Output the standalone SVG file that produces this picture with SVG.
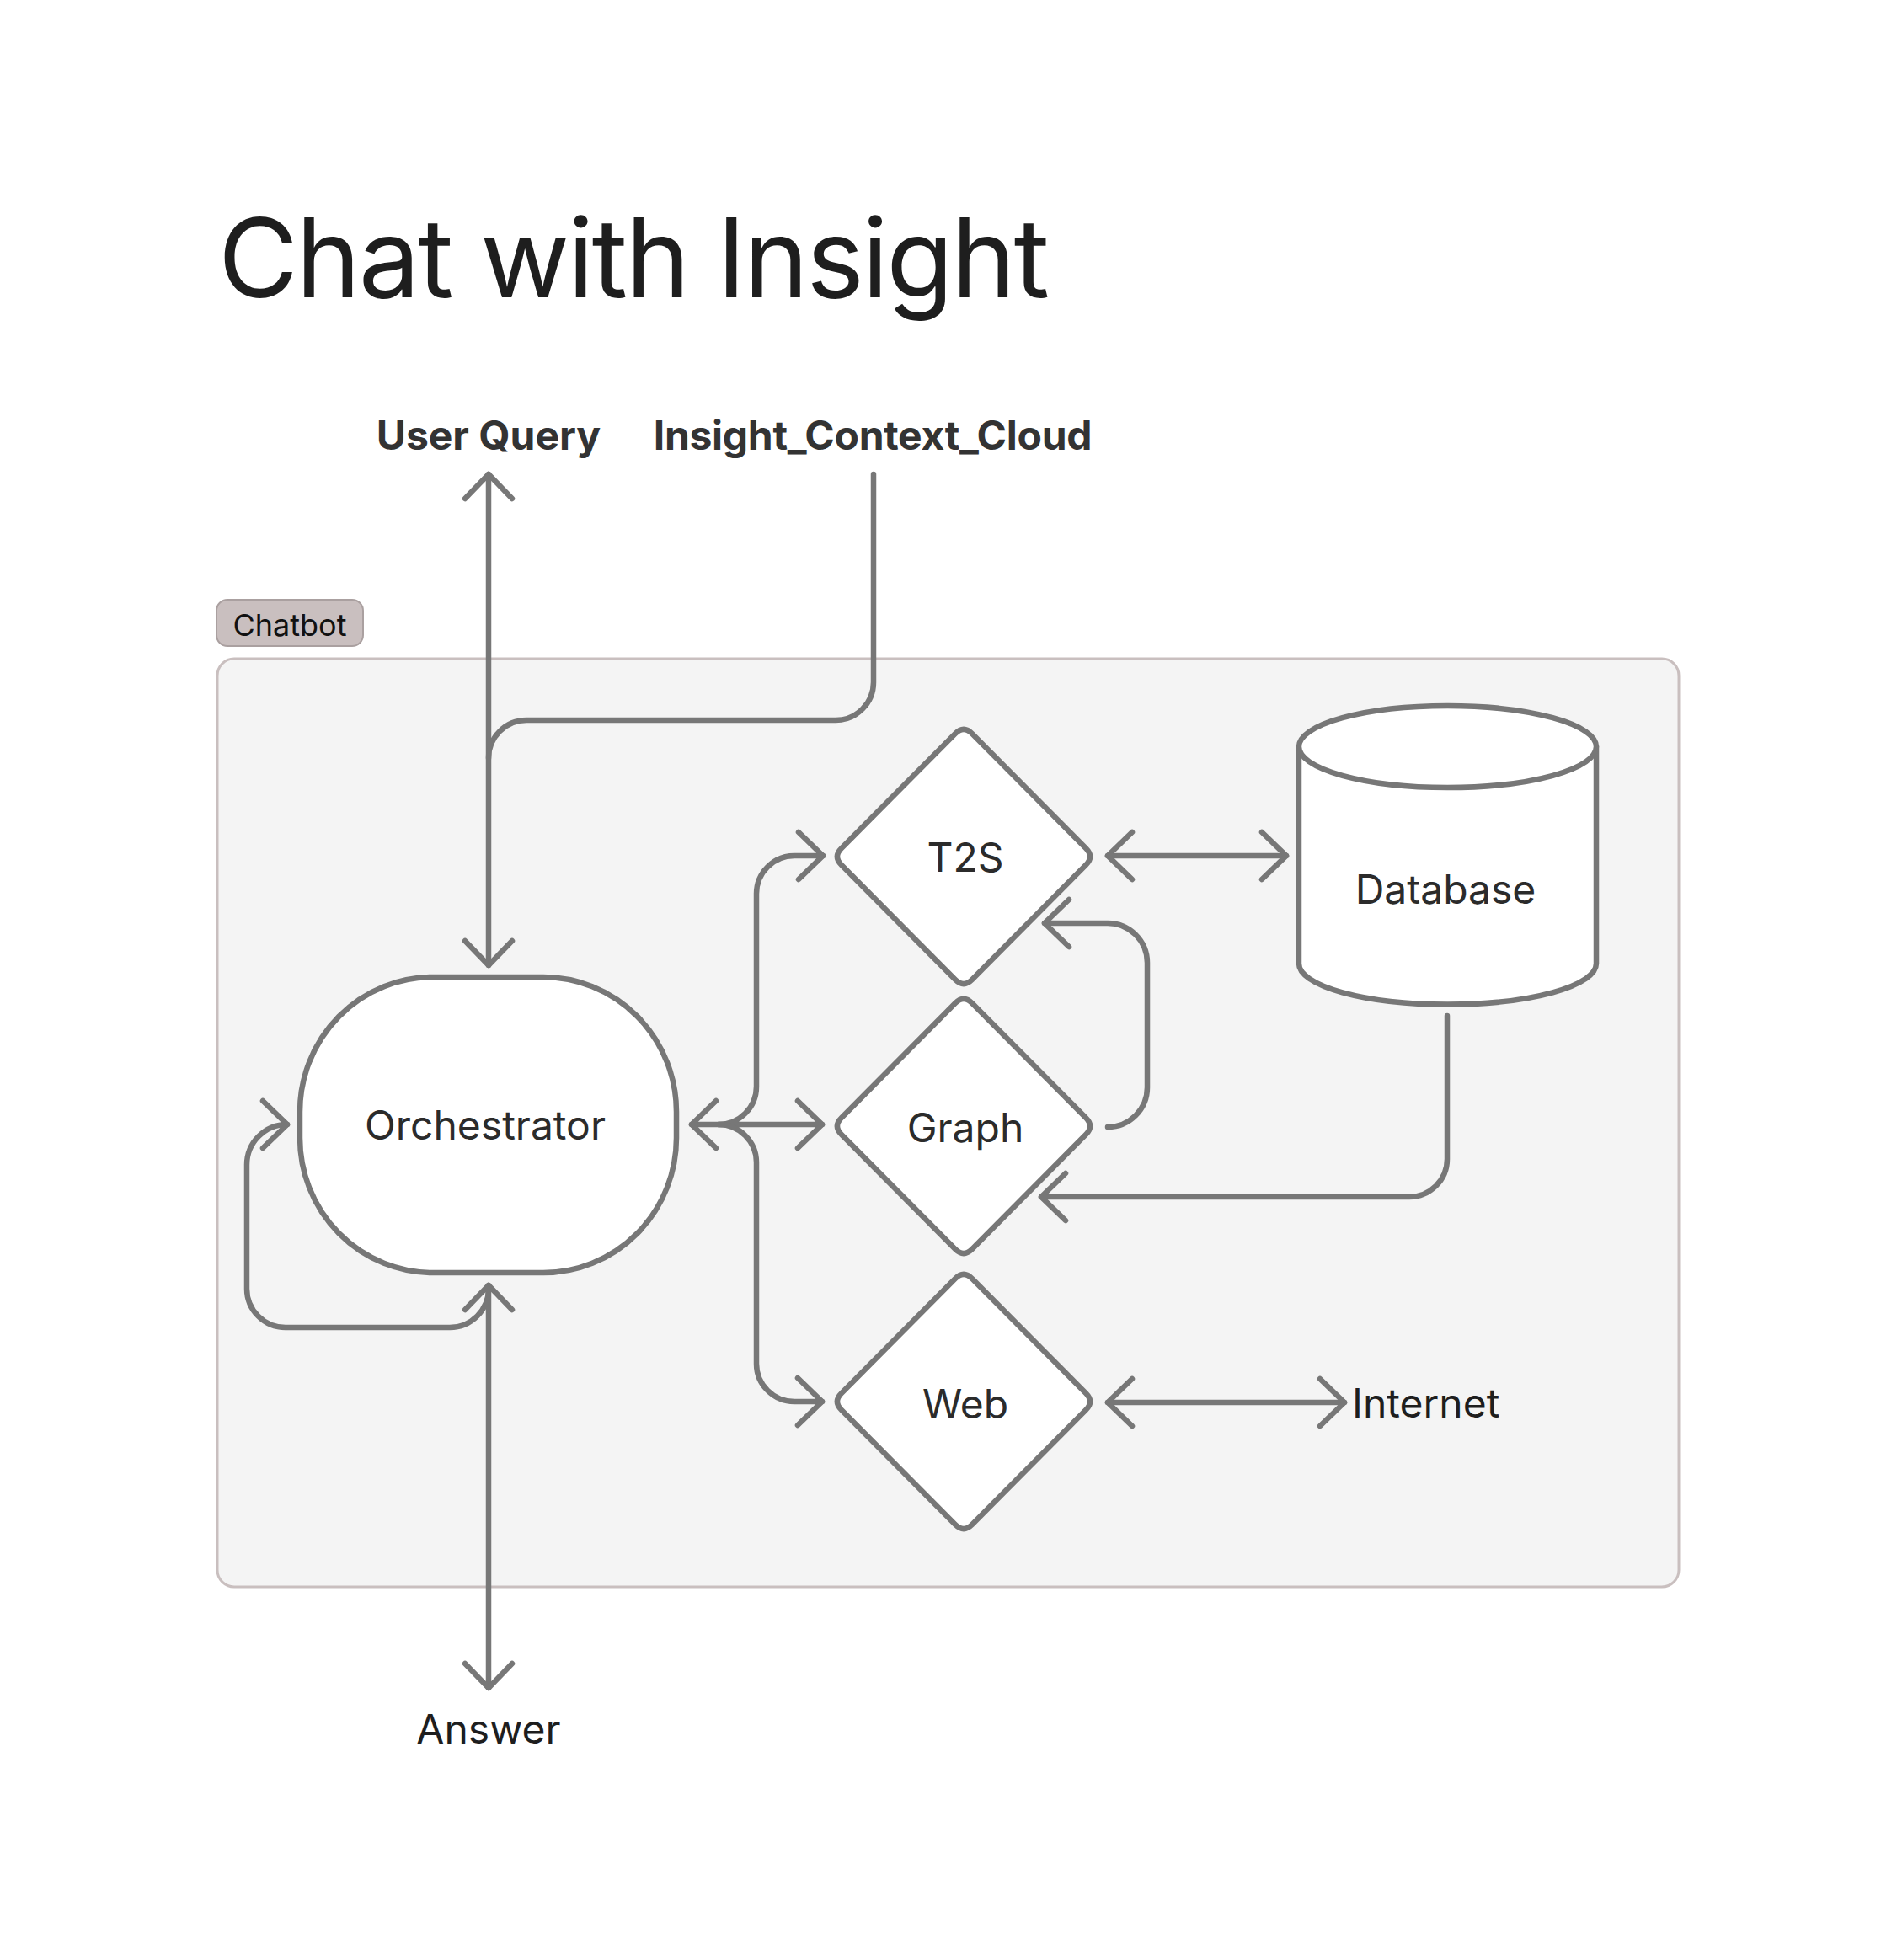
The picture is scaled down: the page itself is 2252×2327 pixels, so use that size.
<svg xmlns="http://www.w3.org/2000/svg" xmlns:xlink="http://www.w3.org/1999/xlink" width="2252" height="2327" viewBox="0 0 2252 2327">
<style>
.conn{fill:none;stroke:#777777;stroke-width:6.5;stroke-linecap:round;stroke-linejoin:round}
.node{fill:#ffffff;stroke:#777777;stroke-width:6.5;stroke-linejoin:round}
.lbl{font-family:Inter,"Noto Sans","Liberation Sans",sans-serif;font-size:48px;fill:#2b2b2b}
.ext{font-family:Inter,"Noto Sans","Liberation Sans",sans-serif;font-size:48px;fill:#1e1e1e}
.bold{font-family:Inter,"Noto Sans","Liberation Sans",sans-serif;font-size:48px;font-weight:700;fill:#333333}
</style>
<defs>
<marker id="ah" viewBox="-36 -36 42 72" refX="0" refY="0" markerWidth="42" markerHeight="72" markerUnits="userSpaceOnUse" orient="auto-start-reverse" overflow="visible">
<path d="M-29,-28 L0,0 L-29,28" fill="none" stroke="#777777" stroke-width="6.5" stroke-linecap="round" stroke-linejoin="round"/>
</marker>
<path id="dia" d="M10,-146 L145,-10 Q155,0 145,10 L10,146 Q0,156 -10,146 L-145,10 Q-155,0 -145,-10 L-10,-146 Q0,-156 10,-146 Z"/>
</defs>
<rect width="2252" height="2327" fill="#ffffff"/>
<text id="title" x="259" y="353" font-family="Inter,'Noto Sans','Liberation Sans',sans-serif" font-size="130" letter-spacing="-2.6" fill="#1e1e1e">Chat with Insight</text>
<g id="chatbot">
<rect x="258" y="782" width="1735" height="1102" rx="20" fill="#f4f4f4" stroke="#c9bfbf" stroke-width="3"/>
<rect x="257" y="712" width="174" height="55" rx="13" fill="#c9bfbf" stroke="#aaa0a0" stroke-width="2"/>
<text x="344" y="755" text-anchor="middle" font-family="Inter,'Noto Sans','Liberation Sans',sans-serif" font-size="36" fill="#111111">Chatbot</text>
</g>
<g id="user-query"><text class="bold" x="580" y="534" text-anchor="middle">User Query</text></g>
<g id="insight-context-cloud"><text class="bold" x="1036" y="534" text-anchor="middle" letter-spacing="-0.3">Insight_Context_Cloud</text></g>
<g id="answer"><text class="ext" x="580" y="2070" text-anchor="middle">Answer</text></g>
<g id="internet"><text class="ext" x="1605" y="1683">Internet</text></g>
<g id="connectors">
<path class="conn" d="M580,563 V1146" marker-start="url(#ah)" marker-end="url(#ah)"/>
<path class="conn" d="M1037,563 V810 A45,45 0 0 1 992,855 H625 A45,45 0 0 0 580,900"/>
<path class="conn" d="M580,1526 V2004" marker-start="url(#ah)" marker-end="url(#ah)"/>
<path class="conn" d="M580,1530 A46,46 0 0 1 534,1576 H339 A46,46 0 0 1 293,1530 V1383 A48,48 0 0 1 341,1335" marker-end="url(#ah)"/>
<path class="conn" d="M853,1335 A45,45 0 0 0 898,1290 V1061 A45,45 0 0 1 943,1016 H977" marker-end="url(#ah)"/>
<path class="conn" d="M821,1335 H976" marker-start="url(#ah)" marker-end="url(#ah)"/>
<path class="conn" d="M853,1335 A45,45 0 0 1 898,1380 V1619 A45,45 0 0 0 943,1664 H976" marker-end="url(#ah)"/>
<path class="conn" d="M1315,1016 H1527" marker-start="url(#ah)" marker-end="url(#ah)"/>
<path class="conn" d="M1315,1338 A47,47 0 0 0 1362,1291 V1143 A47,47 0 0 0 1315,1096 H1240" marker-end="url(#ah)"/>
<path class="conn" d="M1718,1206 V1376 A45,45 0 0 1 1673,1421 H1236" marker-end="url(#ah)"/>
<path class="conn" d="M1315,1665 H1596" marker-start="url(#ah)" marker-end="url(#ah)"/>
</g>
<g id="orchestrator">
<rect class="node" x="356" y="1160" width="447" height="351" rx="158" ry="160"/>
<text class="lbl" x="576" y="1353" text-anchor="middle">Orchestrator</text>
</g>
<g id="t2s">
<use href="#dia" xlink:href="#dia" class="node" transform="translate(1144,1017)"/>
<text class="lbl" x="1146" y="1035" text-anchor="middle">T2S</text>
</g>
<g id="graph">
<use href="#dia" xlink:href="#dia" class="node" transform="translate(1144,1337)"/>
<text class="lbl" x="1146" y="1356" text-anchor="middle">Graph</text>
</g>
<g id="web">
<use href="#dia" xlink:href="#dia" class="node" transform="translate(1144,1664)"/>
<text class="lbl" x="1146" y="1684" text-anchor="middle">Web</text>
</g>
<g id="database">
<path class="node" d="M1542,886.5 V1144 A176.5,48.5 0 0 0 1895,1144 V886.5 Z"/>
<ellipse class="node" cx="1718.5" cy="886.5" rx="176.5" ry="48.5"/>
<text class="lbl" x="1716" y="1073" text-anchor="middle">Database</text>
</g>
</svg>
